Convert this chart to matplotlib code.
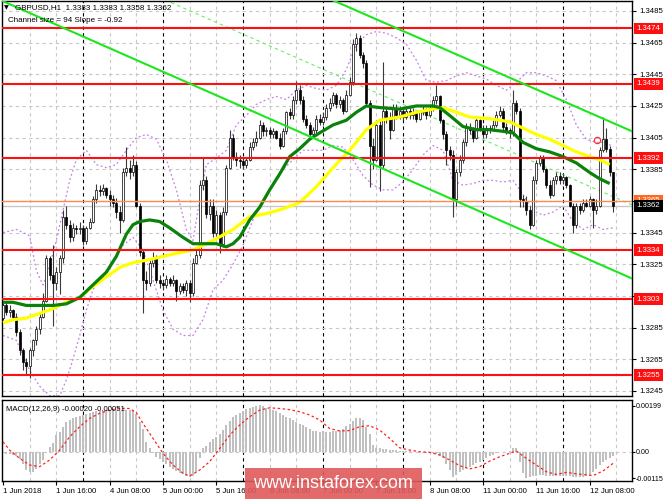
import numpy as np
import matplotlib.pyplot as plt
from matplotlib.patches import Rectangle
from matplotlib.transforms import blended_transform_factory

plt.rcParams['font.family'] = ['Liberation Sans', 'DejaVu Sans']

# GBPUSD H1 bars, 1 Jun 2018 00:00 .. 12 Jun 2018 15:00
first_open = 1.3291
close = [
    1.3299, 1.3295, 1.3296, 1.3292, 1.3282, 1.3271, 1.3263, 1.3261, 1.3271, 1.3277,
    1.3284, 1.3292, 1.3302, 1.3329, 1.3318, 1.3313, 1.3320, 1.3329, 1.3355, 1.3350,
    1.3342, 1.3348, 1.3347, 1.3348, 1.3340, 1.3348, 1.3352, 1.3366, 1.3372, 1.3371,
    1.3373, 1.3369, 1.3366, 1.3364, 1.3358, 1.3353, 1.3383, 1.3386, 1.3383, 1.3388,
    1.3362, 1.3333, 1.3315, 1.3313, 1.3326, 1.3329, 1.3315, 1.3313, 1.3312, 1.3316,
    1.3313, 1.3315, 1.3308, 1.3311, 1.3309, 1.3313, 1.3307, 1.3326, 1.3331, 1.3375,
    1.3378, 1.3357, 1.3362, 1.3345, 1.3356, 1.3338, 1.3358, 1.3386, 1.3405, 1.3393,
    1.3391, 1.3390, 1.3388, 1.3391, 1.3399, 1.3402, 1.3405, 1.3413, 1.3409, 1.3410,
    1.3407, 1.3409, 1.3405, 1.3400, 1.3409, 1.3421, 1.3419, 1.3429, 1.3435, 1.3429,
    1.3417, 1.3413, 1.3407, 1.3410, 1.3417, 1.3415, 1.3418, 1.3424, 1.3427, 1.3432,
    1.3426, 1.3429, 1.3422, 1.3432, 1.3440, 1.3464, 1.3468, 1.3457, 1.3452, 1.3427,
    1.3400, 1.3391, 1.3413, 1.3388, 1.3422, 1.3417, 1.3410, 1.3424, 1.3419, 1.3422,
    1.3418, 1.3422, 1.3419, 1.3421, 1.3417, 1.3421, 1.3422, 1.3419, 1.3424, 1.3429,
    1.3431, 1.3416, 1.3407, 1.3397, 1.3394, 1.3366, 1.3383, 1.3391, 1.3402, 1.3411,
    1.3410, 1.3405, 1.3416, 1.3411, 1.3407, 1.3411, 1.3410, 1.3413, 1.3419, 1.3422,
    1.3412, 1.3410, 1.3408, 1.3427, 1.3422, 1.3366, 1.3365, 1.3359, 1.3350, 1.3378,
    1.3389, 1.3393, 1.3385, 1.3375, 1.3369, 1.3378, 1.3381, 1.3378, 1.3380, 1.3375,
    1.3362, 1.3350, 1.3362, 1.3359, 1.3364, 1.3362, 1.3366, 1.3359, 1.3362, 1.3397,
    1.3404, 1.3398, 1.3383, 1.3362]
high = [
    1.3302, 1.3301, 1.3299, 1.3297, 1.3294, 1.3284, 1.3272, 1.3266, 1.3272, 1.3278,
    1.3286, 1.3295, 1.3307, 1.3331, 1.3330, 1.3337, 1.3323, 1.3331, 1.3359, 1.3362,
    1.3353, 1.3351, 1.3350, 1.3352, 1.3350, 1.3349, 1.3354, 1.3368, 1.3376, 1.3375,
    1.3376, 1.3374, 1.3372, 1.3369, 1.3367, 1.3362, 1.3386, 1.3399, 1.3391, 1.3394,
    1.3390, 1.3364, 1.3334, 1.3321, 1.3329, 1.3333, 1.3331, 1.3318, 1.3315, 1.3318,
    1.3317, 1.3318, 1.3316, 1.3313, 1.3313, 1.3315, 1.3315, 1.3329, 1.3334, 1.3378,
    1.3393, 1.3381, 1.3366, 1.3366, 1.3359, 1.3358, 1.3361, 1.3388, 1.3410, 1.3407,
    1.3396, 1.3394, 1.3392, 1.3393, 1.3402, 1.3405, 1.3409, 1.3416, 1.3415, 1.3412,
    1.3412, 1.3411, 1.3410, 1.3408, 1.3411, 1.3422, 1.3424, 1.3431, 1.3441, 1.3438,
    1.3431, 1.3419, 1.3415, 1.3412, 1.3419, 1.3420, 1.3421, 1.3426, 1.3430, 1.3434,
    1.3433, 1.3431, 1.3430, 1.3435, 1.3443, 1.3467, 1.3471, 1.3470, 1.3459, 1.3454,
    1.3429, 1.3405, 1.3416, 1.3416, 1.3453, 1.3425, 1.3421, 1.3426, 1.3426, 1.3425,
    1.3424, 1.3425, 1.3424, 1.3424, 1.3422, 1.3422, 1.3425, 1.3424, 1.3426, 1.3431,
    1.3438, 1.3432, 1.3417, 1.3409, 1.3400, 1.3397, 1.3385, 1.3394, 1.3404, 1.3414,
    1.3414, 1.3412, 1.3418, 1.3417, 1.3413, 1.3413, 1.3413, 1.3416, 1.3422, 1.3425,
    1.3424, 1.3414, 1.3411, 1.3435, 1.3429, 1.3424, 1.3369, 1.3368, 1.3362, 1.3381,
    1.3391, 1.3394, 1.3394, 1.3386, 1.3378, 1.3380, 1.3383, 1.3383, 1.3382, 1.3381,
    1.3376, 1.3364, 1.3364, 1.3364, 1.3366, 1.3366, 1.3368, 1.3367, 1.3366, 1.3399,
    1.3418, 1.3411, 1.3400, 1.3383]
low = [
    1.3290, 1.3293, 1.3292, 1.3290, 1.3280, 1.3268, 1.3258, 1.3256, 1.3253, 1.3267,
    1.3274, 1.3281, 1.3291, 1.3301, 1.3315, 1.3286, 1.3309, 1.3306, 1.3326, 1.3347,
    1.3339, 1.3340, 1.3344, 1.3344, 1.3337, 1.3338, 1.3347, 1.3351, 1.3364, 1.3368,
    1.3369, 1.3367, 1.3362, 1.3361, 1.3354, 1.3345, 1.3352, 1.3381, 1.3379, 1.3381,
    1.3361, 1.3330, 1.3294, 1.3309, 1.3311, 1.3323, 1.3313, 1.3310, 1.3309, 1.3310,
    1.3311, 1.3311, 1.3302, 1.3306, 1.3307, 1.3305, 1.3301, 1.3305, 1.3325, 1.3329,
    1.3372, 1.3354, 1.3353, 1.3342, 1.3343, 1.3332, 1.3336, 1.3356, 1.3385, 1.3391,
    1.3387, 1.3386, 1.3385, 1.3386, 1.3390, 1.3397, 1.3400, 1.3404, 1.3406, 1.3406,
    1.3405, 1.3405, 1.3404, 1.3398, 1.3399, 1.3407, 1.3417, 1.3417, 1.3426, 1.3426,
    1.3415, 1.3411, 1.3404, 1.3405, 1.3408, 1.3413, 1.3413, 1.3416, 1.3422, 1.3425,
    1.3424, 1.3424, 1.3420, 1.3421, 1.3431, 1.3438, 1.3460, 1.3455, 1.3449, 1.3425,
    1.3374, 1.3385, 1.3390, 1.3371, 1.3386, 1.3414, 1.3404, 1.3409, 1.3417, 1.3417,
    1.3416, 1.3417, 1.3417, 1.3417, 1.3415, 1.3416, 1.3419, 1.3417, 1.3418, 1.3422,
    1.3426, 1.3414, 1.3404, 1.3388, 1.3391, 1.3355, 1.3362, 1.3381, 1.3389, 1.3400,
    1.3407, 1.3402, 1.3404, 1.3409, 1.3405, 1.3405, 1.3408, 1.3409, 1.3412, 1.3418,
    1.3410, 1.3407, 1.3405, 1.3406, 1.3420, 1.3361, 1.3361, 1.3356, 1.3347, 1.3349,
    1.3376, 1.3387, 1.3383, 1.3373, 1.3367, 1.3368, 1.3376, 1.3376, 1.3376, 1.3373,
    1.3361, 1.3345, 1.3348, 1.3357, 1.3358, 1.3361, 1.3361, 1.3348, 1.3357, 1.3361,
    1.3396, 1.3396, 1.3381, 1.3358]

# moving averages (bar index, price)
ma_green_bar = [0, 3, 7, 11, 15, 19, 23, 27, 31, 34, 37, 39, 41, 44, 47, 50, 54, 57, 60, 64,
                67, 69, 71, 74, 77, 80, 83, 86, 89, 92, 95, 99, 103, 106, 109, 113, 119, 124,
                129, 131, 134, 138, 142, 146, 150, 153, 156, 160, 164, 168, 172, 176, 179, 182]
ma_green = [1.3301, 1.3301, 1.3299, 1.3299, 1.3299, 1.3300, 1.3304, 1.3312, 1.3320, 1.3330,
            1.3344, 1.3350, 1.3352, 1.3353, 1.3352, 1.3348, 1.3342, 1.3338, 1.3338, 1.3338,
            1.3336, 1.3338, 1.3342, 1.3353, 1.3361, 1.3372, 1.3382, 1.3393, 1.3398, 1.3404,
            1.3408, 1.3413, 1.3416, 1.3421, 1.3425, 1.3424, 1.3423, 1.3425, 1.3425, 1.3424,
            1.3419, 1.3412, 1.3410, 1.3410, 1.3409, 1.3408, 1.3402, 1.3398, 1.3396, 1.3393,
            1.3389, 1.3383, 1.3379, 1.3376]
ma_yellow_bar = [0, 3, 7, 11, 15, 19, 23, 27, 31, 35, 39, 44, 50, 57, 63, 69, 74, 79, 84, 89,
                 94, 99, 104, 109, 113, 119, 124, 129, 132, 136, 140, 146, 152, 155, 160, 164,
                 168, 172, 176, 179, 182]
ma_yellow = [1.3288, 1.3290, 1.3291, 1.3294, 1.3297, 1.3301, 1.3304, 1.3311, 1.3317, 1.3323,
             1.3326, 1.3328, 1.3331, 1.3334, 1.3340, 1.3347, 1.3355, 1.3357, 1.3360, 1.3364,
             1.3374, 1.3386, 1.3397, 1.3410, 1.3416, 1.3418, 1.3421, 1.3423, 1.3424, 1.3421,
             1.3418, 1.3417, 1.3415, 1.3412, 1.3407, 1.3404, 1.3400, 1.3396, 1.3393, 1.3391,
             1.3388]

# Bollinger envelope (bar index, price)
bb_up_bar = [0, 4, 8, 10, 12, 14, 16, 18, 20, 22, 25, 28, 31, 34, 37, 40, 43, 46, 49, 52, 55,
             57, 59, 61, 64, 67, 70, 73, 76, 79, 82, 85, 88, 91, 94, 97, 100, 103, 106, 109,
             112, 115, 118, 121, 124, 127, 130, 133, 136, 139, 142, 145, 148, 151, 154, 157,
             160, 163, 166, 169, 172, 175, 178, 181, 183]
bb_up = [1.3345, 1.3347, 1.3343, 1.3321, 1.3312, 1.3324, 1.3340, 1.3359, 1.3378, 1.3391, 1.3397,
         1.3388, 1.3386, 1.3388, 1.3397, 1.3405, 1.3407, 1.3404, 1.3391, 1.3372, 1.3347, 1.3340,
         1.3366, 1.3388, 1.3392, 1.3397, 1.3413, 1.3419, 1.3426, 1.3429, 1.3431, 1.3429, 1.3435,
         1.3438, 1.3436, 1.3435, 1.3438, 1.3448, 1.3464, 1.3470, 1.3472, 1.3471, 1.3468, 1.3464,
         1.3454, 1.3441, 1.3440, 1.3441, 1.3444, 1.3446, 1.3444, 1.3442, 1.3438, 1.3435, 1.3440,
         1.3446, 1.3446, 1.3444, 1.3441, 1.3429, 1.3413, 1.3404, 1.3402, 1.3402, 1.3399]
bb_lo_bar = [0, 4, 8, 11, 14, 17, 19, 21, 23, 25, 27, 30, 33, 36, 39, 42, 45, 48, 51, 54, 57,
             60, 63, 66, 69, 72, 75, 78, 81, 84, 87, 90, 93, 96, 99, 102, 105, 108, 111, 114,
             117, 120, 123, 126, 129, 132, 135, 138, 141, 144, 147, 150, 153, 156, 159, 162,
             165, 168, 171, 174, 177, 180, 183]
bb_lo = [1.3280, 1.3277, 1.3258, 1.3248, 1.3242, 1.3242, 1.3252, 1.3265, 1.3280, 1.3296, 1.3309,
         1.3318, 1.3327, 1.3337, 1.3342, 1.3334, 1.3315, 1.3296, 1.3284, 1.3280, 1.3280, 1.3290,
         1.3309, 1.3315, 1.3325, 1.3337, 1.3353, 1.3366, 1.3375, 1.3385, 1.3391, 1.3397, 1.3397,
         1.3397, 1.3400, 1.3399, 1.3391, 1.3381, 1.3375, 1.3372, 1.3372, 1.3377, 1.3385, 1.3394,
         1.3400, 1.3397, 1.3378, 1.3375, 1.3376, 1.3378, 1.3378, 1.3377, 1.3378, 1.3369, 1.3359,
         1.3356, 1.3358, 1.3362, 1.3352, 1.3347, 1.3350, 1.3347, 1.3348]

# equidistant channel, end points of each line
chan_lo_bar, chan_lo = [-0.9, 188.7], [1.3492, 1.3316]
chan_mid_bar, chan_mid = [48.6, 188.7], [1.3492, 1.33625]
chan_up_bar, chan_up = [98.7, 188.7], [1.3492, 1.3409]

red_levels = [1.3474, 1.3439, 1.3392, 1.3334, 1.3303, 1.3255]
orange_level = 1.3365
bid_level = 1.3362
mark_bar, mark_price = 178.2, 1.34035

# MACD(12,26,9): main line in 1e-5 units, one per bar
macd = [
    -5, -8, -10, -15, -20, -30, -55, -80, -90, -88,
    -75, -55, -35, -5, 22, 36, 72, 87, 109, 130,
    138, 145, 150, 155, 160, 165, 168, 172, 175, 177,
    178, 180, 181, 180, 178, 176, 178, 181, 182, 180,
    165, 130, 100, 43, 15, -7, -22, -30, -43, -55,
    -65, -75, -85, -92, -98, -105, -108, -106, -90, -29,
    14, 25, 43, 55, 65, 75, 95, 115, 135, 152,
    160, 170, 178, 185, 192, 196, 200, 203, 198, 192,
    188, 182, 175, 168, 160, 150, 145, 138, 130, 120,
    116, 108, 100, 92, 88, 87, 88, 87, 87, 88,
    90, 94, 100, 110, 122, 135, 145, 145, 138, 109,
    75, 29, 17, 14, 12, 10, 9, 8, 7, 5,
    4, 3, 2, 0, -2, -3, -3, -4, -5, -5,
    -8, -18, -29, -55, -80, -109, -101, -90, -80, -72,
    -65, -58, -50, -43, -36, -29, -20, -14, -6, -3,
    -1, 0, 5, 17, 15, -43, -94, -113, -108, -106,
    -104, -103, -103, -104, -105, -106, -106, -105, -104, -104,
    -106, -108, -109, -109, -108, -105, -100, -90, -75, -60,
    -45, -35, -28, -20]
signal_bar = [0, 2, 5, 8, 11, 14, 17, 20, 23, 26, 29, 32, 35, 38, 40, 42, 45, 48, 51, 54, 56, 59,
              62, 65, 68, 71, 74, 77, 80, 83, 86, 89, 92, 95, 98, 101, 104, 107, 110, 113, 116,
              119, 122, 125, 128, 131, 134, 137, 140, 143, 146, 149, 152, 154, 157, 160, 163,
              166, 169, 172, 175, 177, 180, 183]
signal = [43, 7, -29, -58, -65, -36, 7, 65, 109, 145, 167, 181, 188, 188, 170, 123, 58, -7, -58,
          -94, -106, -80, -43, 14, 72, 116, 152, 181, 191, 188, 183, 174, 160, 138, 101, 90, 92,
          109, 113, 94, 58, 17, 7, 0, -3, -14, -36, -61, -75, -65, -41, -22, -7, 3, -29, -58,
          -87, -99, -90, -96, -101, -104, -84, -51]

tick_bars = [0, 16, 32, 48, 64, 80, 96, 112, 128, 144, 160, 176]
tick_text = ['1 Jun 2018', '1 Jun 16:00', '4 Jun 08:00', '5 Jun 00:00', '5 Jun 16:00',
             '6 Jun 08:00', '7 Jun 00:00', '7 Jun 16:00', '8 Jun 08:00', '11 Jun 00:00',
             '11 Jun 16:00', '12 Jun 08:00']
price_ticks = [1.3245, 1.3265, 1.3285, 1.3305, 1.3325, 1.3345, 1.3365, 1.3385, 1.3405,
               1.3425, 1.3445, 1.3465, 1.3485]

W, H = 665, 499
fig = plt.figure(figsize=(W / 100, H / 100), dpi=100)
ax = fig.add_axes([2 / W, 1 - 396 / H, 630 / W, 395 / H])
axm = fig.add_axes([2 / W, 1 - 481 / H, 630 / W, 81 / H])

bars = np.arange(len(close))
c = np.array(close)
o = np.array([first_open] + close[:-1])
hi = np.array(high)
lo = np.array(low)
up = c >= o

for a in (ax, axm):
    a.set_xlim(-0.3, 188.7)
    for s in a.spines.values():
        s.set_color('black')
        s.set_linewidth(1)
    for b in range(8, 189, 8):
        if b % 24 == 0:
            a.axvline(b, color='black', lw=0.8, ls=(0, (3, 3)), zorder=0)
        else:
            a.axvline(b, color='#c8c8c8', lw=0.8, ls=(0, (3, 3)), zorder=0)

ax.set_ylim(1.32418, 1.34913)
for p in price_ticks:
    ax.axhline(p, color='#c8c8c8', lw=0.8, ls=(0, (3, 3)), zorder=0)

# bollinger and channel
ax.plot(bb_up_bar, bb_up, color='#c77ee6', lw=0.9, ls=(0, (1.5, 2)), zorder=1)
ax.plot(bb_lo_bar, bb_lo, color='#c77ee6', lw=0.9, ls=(0, (1.5, 2)), zorder=1)
ax.plot(chan_mid_bar, chan_mid, color='#66ee66', lw=0.8, ls=(0, (3, 3)), zorder=1)

# candles
ax.vlines(bars, lo, hi, color='#3a3a3a', lw=0.8, zorder=2)
body_lo = np.minimum(o, c)
body_h = np.maximum(np.abs(c - o), 0.00003)
ax.bar(bars, body_h, bottom=body_lo, width=0.62,
       color=np.where(up, 'white', 'black'), edgecolor='black', lw=0.5, zorder=3)

ax.plot(ma_yellow_bar, ma_yellow, color='#ffff00', lw=2.3, zorder=4, solid_capstyle='butt')
ax.plot(ma_green_bar, ma_green, color='#0a820a', lw=2.3, zorder=4, solid_capstyle='butt')

for lv in red_levels:
    ax.axhline(lv, color='#ff1010', lw=1.5, zorder=5)
ax.axhline(orange_level, color='#ff8a50', lw=1, zorder=5)
ax.axhline(bid_level, color='#c8c8c8', lw=1, zorder=1)

ax.plot(chan_lo_bar, chan_lo, color='#1ee61e', lw=1.5, zorder=6)
ax.plot(chan_up_bar, chan_up, color='#1ee61e', lw=1.5, zorder=6)
ax.plot(mark_bar, mark_price, 'o', mfc='none', mec='#ff3030', ms=4.5, mew=0.9, zorder=7)

ax.set_xticks([])
ax.yaxis.tick_right()
ax.set_yticks(price_ticks)
ax.set_yticklabels(['%.4f' % p for p in price_ticks])
ax.tick_params(axis='y', labelsize=5.6, length=3, pad=2, colors='black')

tr = blended_transform_factory(ax.transAxes, ax.transData)
ax.text(1.0075, orange_level, '%.4f' % orange_level, transform=tr, fontsize=5.6, color='white',
        va='center', ha='left', zorder=9, clip_on=False,
        bbox=dict(boxstyle='square,pad=0.3', fc='#ff6a20', ec='none'))
for lv in red_levels:
    ax.text(1.0075, lv, '%.4f' % lv, transform=tr, fontsize=5.6, color='white', va='center',
            ha='left', zorder=9, clip_on=False,
            bbox=dict(boxstyle='square,pad=0.3', fc='#ff1010', ec='none'))
ax.text(1.0075, bid_level, '%.4f' % bid_level, transform=tr, fontsize=5.6, color='white',
        va='center', ha='left', zorder=10, clip_on=False,
        bbox=dict(boxstyle='square,pad=0.3', fc='black', ec='none'))

# MACD panel
hist = np.array(macd) * 1e-5
axm.set_ylim(-0.001275, 0.00225)
axm.axhline(0, color='#c8c8c8', lw=0.8, ls=(0, (3, 3)), zorder=0)
axm.bar(bars, hist, width=0.62, color='#c0c0c0', zorder=2)
axm.plot(signal_bar, np.array(signal) * 1e-5, color='#ff2020', lw=0.9, ls=(0, (2, 2)), zorder=3)
axm.yaxis.tick_right()
axm.set_yticks([0.00199, 0.0, -0.00115])
axm.set_yticklabels(['0.00199', '0.00', '-0.00115'])
axm.tick_params(axis='y', labelsize=5.1, length=2, pad=1)
axm.set_xticks(tick_bars)
axm.set_xticklabels(tick_text, ha='left')
axm.tick_params(axis='x', labelsize=5.6, length=3, pad=2)
axm.text(0.006, 0.92, 'MACD(12,26,9) -0.00020 -0.00051', transform=axm.transAxes,
         fontsize=5.6, va='top', ha='left')

# header
fig.text(4 / W, 1 - 8 / H, '\u25bc', fontsize=4.5, va='center', ha='left',
         family=['DejaVu Sans'])
fig.text(15 / W, 1 - 8 / H, 'GBPUSD,H1  1.3383 1.3383 1.3358 1.3362', fontsize=5.8,
         va='center', ha='left')
fig.text(8 / W, 1 - 20 / H, 'Channel size = 94 Slope = -0.92', fontsize=5.8,
         va='center', ha='left')

# watermark
fig.add_artist(Rectangle((245 / W, 0), 177 / W, 31 / H, transform=fig.transFigure,
                         fc='#df5a5a', ec='none', alpha=0.9, zorder=20))
fig.text(333 / W, 1 - 484 / H, 'www.instaforex.com', fontsize=13, color='white',
         ha='center', va='center', zorder=21)

fig.savefig('out.png', dpi=100)
